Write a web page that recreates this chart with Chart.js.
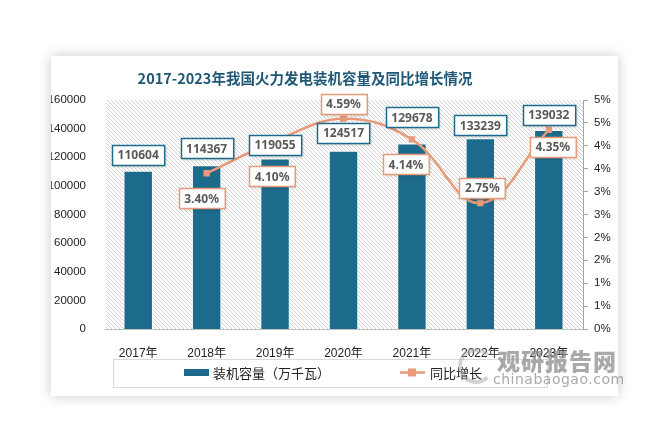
<!DOCTYPE html>
<html>
<head>
<meta charset="utf-8">
<script src="https://cdn.jsdelivr.net/npm/chart.js@4.4.1/dist/chart.umd.min.js"></script>
<style>
  body { margin: 0; background: #fff; width: 672px; height: 446px; overflow: hidden; position: relative; font-family: "Noto Sans CJK SC", sans-serif; }
  #card { position: absolute; left: 51px; top: 56px; width: 567px; height: 340px; background: #fff; box-shadow: 0 0 12px rgba(0,0,0,0.22); }
  #chart { position: absolute; left: 0; top: 0; }
  .wm { position: absolute; color: rgba(140,140,140,0.75); white-space: nowrap; }
  #wm1 { left: 497px; top: 343px; font-size: 23px; font-weight: 900; letter-spacing: 1px; }
  #wm2 { left: 493px; top: 371px; font-size: 14px; font-family: "DejaVu Sans", sans-serif; letter-spacing: 0.5px; }
  #logo { position: absolute; left: 458px; top: 348px; width: 28px; height: 28px; border-radius: 50%; border: 4px solid rgba(170,170,170,0.5); border-right-color: transparent; }
</style>
</head>
<body>
<div id="card"><canvas id="chart" width="567" height="340"></canvas></div>
<div id="logo"></div>
<div class="wm" id="wm1">观研报告网</div>
<div class="wm" id="wm2">chinabaogao.com</div>
<script>
const years = ["2017年", "2018年", "2019年", "2020年", "2021年", "2022年", "2023年"];
const capacity = [110604, 114367, 119055, 124517, 129678, 133239, 139032];
const growth = [null, 3.40, 4.10, 4.59, 4.14, 2.75, 4.35];

const titleText = "2017-2023年我国火力发电装机容量及同比增长情况";
const capLabel = "装机容量（万千瓦）";
const growthLabel = "同比增长";

// label placement (px), kept apart from the values
const barLabelGap = [6, 7, 4, 8, 16, 3, 5];
const pctLabelOffset = [null, [-5, 25], [-3, 35], [0, -15], [-6, 25], [2, -15], [4, 17]];

const blue = "#1d6b8c";
const orange = "#e89a78";

function labelBox(ctx, cx, cy, text, border) {
  ctx.save();
  ctx.font = "bold 12px 'Noto Sans', sans-serif";
  const w = ctx.measureText(text).width + 11;
  const h = 20;
  const x = Math.round(cx - w / 2) + 0.5, y = Math.round(cy - h / 2) + 0.5;
  ctx.shadowColor = "rgba(0,0,0,0.25)";
  ctx.shadowBlur = 3;
  ctx.shadowOffsetX = 1;
  ctx.shadowOffsetY = 1;
  ctx.fillStyle = "#fff";
  ctx.fillRect(x, y, w, h);
  ctx.shadowColor = "transparent";
  ctx.strokeStyle = border;
  ctx.lineWidth = 1.5;
  ctx.strokeRect(x, y, w, h);
  ctx.fillStyle = "#595959";
  ctx.textAlign = "center";
  ctx.textBaseline = "middle";
  ctx.fillText(text, cx, cy + 1);
  ctx.restore();
}

const decor = {
  id: "decor",
  beforeDraw(chart) {
    const { ctx, chartArea: a } = chart;
    const tile = document.createElement("canvas");
    tile.width = 4; tile.height = 4;
    const t = tile.getContext("2d");
    t.strokeStyle = "#d2d2d2";
    t.lineWidth = 1;
    t.beginPath();
    t.moveTo(-1, -1); t.lineTo(5, 5);
    t.moveTo(-1, 3); t.lineTo(1, 5);
    t.moveTo(3, -1); t.lineTo(5, 1);
    t.stroke();
    ctx.save();
    ctx.fillStyle = ctx.createPattern(tile, "repeat");
    ctx.fillRect(a.left + 2, a.top, a.right - a.left - 2, a.bottom - a.top);
    ctx.restore();
  },
  afterDraw(chart) {
    const { ctx } = chart;
    // title
    ctx.save();
    ctx.font = "bold 14.5px 'Noto Sans CJK SC', serif";
    ctx.fillStyle = "#1f5876";
    ctx.textAlign = "center";
    ctx.textBaseline = "middle";
    ctx.fillText(titleText, 254, 22);
    ctx.restore();

    // value labels
    const bars = chart.getDatasetMeta(0).data;
    bars.forEach((el, i) => {
      labelBox(ctx, el.x, el.y - barLabelGap[i] - 10, String(capacity[i]), blue);
    });
    const pts = chart.getDatasetMeta(1).data;
    pts.forEach((el, i) => {
      if (growth[i] == null) return;
      const o = pctLabelOffset[i];
      labelBox(ctx, el.x + o[0], el.y + o[1], growth[i].toFixed(2) + "%", orange);
    });

    // legend
    ctx.save();
    ctx.strokeStyle = "#d9d9d9";
    ctx.lineWidth = 1;
    ctx.strokeRect(62.5, 303.5, 434, 28);
    ctx.fillStyle = blue;
    ctx.fillRect(133, 313, 25, 7);
    ctx.font = "13px 'Noto Sans CJK SC', sans-serif";
    ctx.fillStyle = "#222";
    ctx.textBaseline = "middle";
    ctx.fillText(capLabel, 162, 317);
    ctx.strokeStyle = orange;
    ctx.lineWidth = 2.5;
    ctx.beginPath();
    ctx.moveTo(349, 316.5); ctx.lineTo(374, 316.5);
    ctx.stroke();
    ctx.fillStyle = orange;
    ctx.fillRect(357, 312.5, 8, 8);
    ctx.fillStyle = "#222";
    ctx.fillText(growthLabel, 379, 317);
    ctx.restore();
  }
};

const xFont = { family: "'Liberation Sans', 'Noto Sans CJK SC', sans-serif", size: 12 };
const yFont = { family: "'Liberation Sans', sans-serif", size: 11.5 };

new Chart(document.getElementById("chart"), {
  data: {
    labels: years,
    datasets: [
      {
        type: "bar",
        label: capLabel,
        data: capacity,
        yAxisID: "y",
        backgroundColor: blue,
        borderColor: "#fff",
        borderWidth: 1,
        barPercentage: 0.43,
        categoryPercentage: 1,
        order: 1
      },
      {
        type: "line",
        label: growthLabel,
        data: growth,
        yAxisID: "y2",
        borderColor: orange,
        backgroundColor: orange,
        borderWidth: 2.5,
        tension: 0.4,
        pointStyle: "rect",
        pointRadius: 4.5,
        pointBorderWidth: 0,
        order: 0
      }
    ]
  },
  options: {
    responsive: false,
    animation: false,
    layout: { padding: { top: 44, left: 0, right: 0, bottom: 0 } },
    plugins: { legend: { display: false }, title: { display: false }, tooltip: { enabled: false } },
    scales: {
      x: {
        grid: { display: false },
        border: { display: true, color: "#bfbfbf", width: 1 },
        ticks: { font: xFont, color: "#222", padding: 9 },
        afterFit(s) { s.height = 67; }
      },
      y: {
        position: "left",
        min: 0, max: 160000,
        grid: { display: false },
        border: { display: false },
        ticks: { stepSize: 20000, font: yFont, color: "#222", padding: 10, callback: v => String(v) },
        afterFit(s) { s.width = 53; }
      },
      y2: {
        position: "right",
        min: 0, max: 5,
        grid: { drawOnChartArea: false, color: "#a6a6a6", tickLength: 5 },
        border: { display: true, color: "#a6a6a6" },
        ticks: { stepSize: 0.5, font: yFont, color: "#222", padding: 6, callback: v => Math.round(v) + "%" },
        afterFit(s) { s.width = 35; }
      }
    }
  },
  plugins: [decor]
});
</script>
</body>
</html>
